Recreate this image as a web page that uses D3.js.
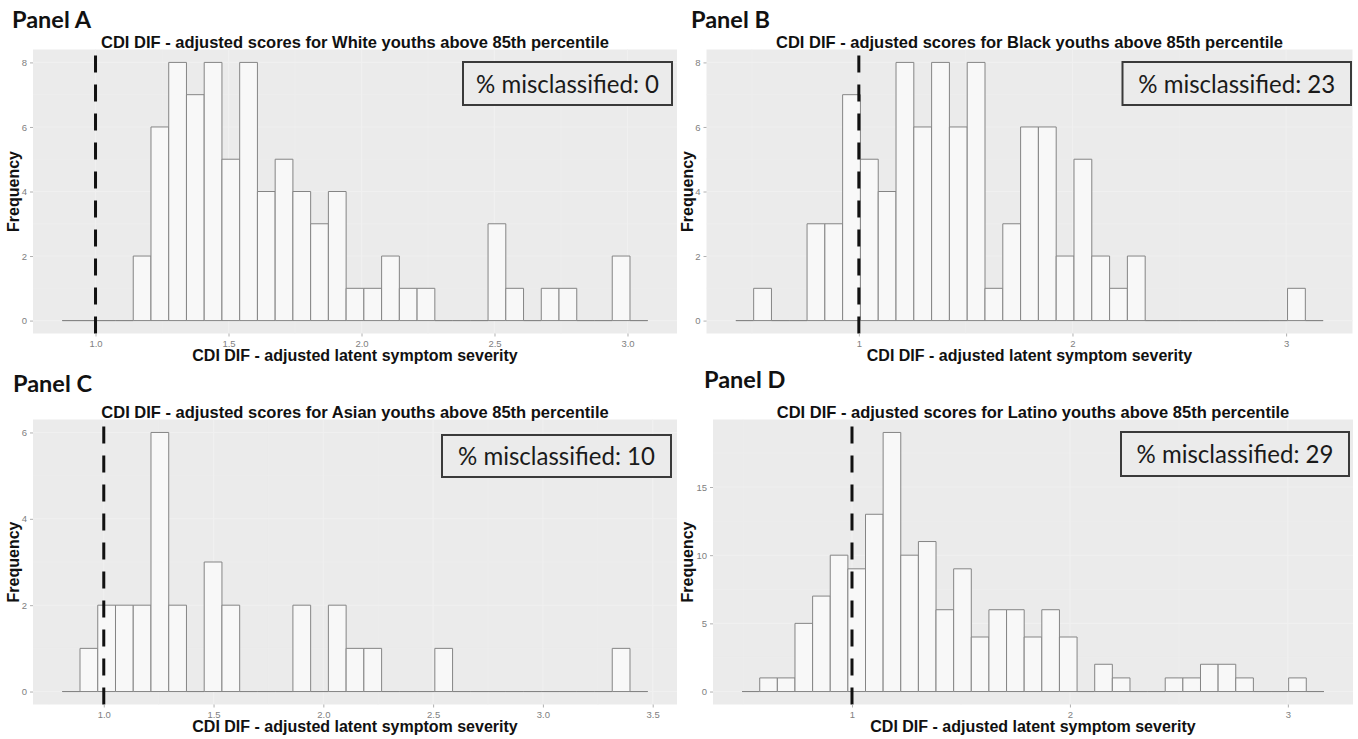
<!DOCTYPE html>
<html>
<head>
<meta charset="utf-8">
<script src="https://cdn.jsdelivr.net/npm/d3@7"></script>
<style>
  body { margin: 0; background: #fff; }
  svg { display: block; }
</style>
</head>
<body>
<svg id="chart" width="1358" height="739"></svg>
<script>
// values
const panelNames = ["Panel A", "Panel B", "Panel C", "Panel D"];
const groups = ["White", "Black", "Asian", "Latino"];
const misclassified = [0, 23, 10, 29];
const cutoff = 1;

// first bin edge and bin width of each histogram
const binStart = [0.875, 0.4244, 0.811, 0.4957];
const binWidth = [0.0667, 0.0833, 0.0808, 0.0809];

const countsA = [0,0,0,0,2,6,8,7,8,5,8,4,5,4,3,4,1,1,2,1,1,0,0,0,3,1,0,1,1,0,0,2,0];
const countsB = [0,1,0,0,3,3,7,5,4,8,6,8,6,8,1,3,6,6,2,5,2,1,2,0,0,0,0,0,0,0,0,1,0];
const countsC = [0,1,2,2,2,6,2,0,3,2,0,0,0,2,0,2,1,1,0,0,0,1,0,0,0,0,0,0,0,0,0,1,0];
const countsD = [0,1,1,5,7,10,9,13,19,10,11,6,9,4,6,6,4,6,4,0,2,1,0,0,1,1,2,2,1,0,0,1,0];

const xTicksA = [1.0, 1.5, 2.0, 2.5, 3.0];
const xTicksB = [1, 2, 3];
const xTicksC = [1.0, 1.5, 2.0, 2.5, 3.0, 3.5];
const xTicksD = [1, 2, 3];
const yTicksA = [0, 2, 4, 6, 8];
const yTicksB = [0, 2, 4, 6, 8];
const yTicksC = [0, 2, 4, 6];
const yTicksD = [0, 5, 10, 15];

const counts = [countsA, countsB, countsC, countsD];
const xTicks = [xTicksA, xTicksB, xTicksC, xTicksD];
const yTicks = [yTicksA, yTicksB, yTicksC, yTicksD];
const xFormats = [".1f", "d", ".1f", "d"];

// layout of the 4 panels (plot area in px)
const frames = [
  { l: 33, r: 677, t: 49.5, b: 333.5 },
  { l: 706.5, r: 1352.5, t: 49.5, b: 333.5 },
  { l: 33, r: 677, t: 419.5, b: 704.5 },
  { l: 713, r: 1353, t: 419.5, b: 704.5 }
];
const labelPos = [[12, 27.5], [691, 28.3], [13, 391.5], [704, 388.3]];
const boxes = [
  { x: 463, y: 62, w: 209, h: 43, tw: 183 },
  { x: 1122.5, y: 62, w: 228.5, h: 43, tw: 197 },
  { x: 442, y: 435, w: 229, h: 42, tw: 197 },
  { x: 1121, y: 432, w: 228, h: 44, tw: 197 }
];

const svg = d3.select("#chart");

function expand(lo, hi) {
  let pad = (hi - lo) * 0.05;
  return [lo - pad, hi + pad];
}

for (let i = 0; i < 4; i++) {
  let f = frames[i];
  let data = counts[i].map((c, j) => ({
    x0: binStart[i] + j * binWidth[i],
    x1: binStart[i] + (j + 1) * binWidth[i],
    n: c
  }));
  let xMax = data[data.length - 1].x1;
  let x = d3.scaleLinear()
    .domain(expand(Math.min(binStart[i], cutoff), Math.max(xMax, cutoff)))
    .range([f.l, f.r]);
  let y = d3.scaleLinear()
    .domain(expand(0, d3.max(counts[i])))
    .range([f.b, f.t]);

  let g = svg.append("g");

  g.append("rect")
    .attr("x", f.l).attr("y", f.t)
    .attr("width", f.r - f.l).attr("height", f.b - f.t)
    .attr("fill", "#ebebeb");

  // faint grid
  let xt = xTicks[i];
  let xStep = xt[1] - xt[0];
  let xMinor = d3.range(xt[0] - xStep / 2, xt[xt.length - 1] + xStep, xStep)
    .filter(v => v > x.domain()[0] && v < x.domain()[1]);
  let yt = yTicks[i];
  let yStep = yt[1] - yt[0];
  let yMinor = d3.range(yt[0] + yStep / 2, y.domain()[1], yStep);

  g.selectAll(".gx").data(xMinor).enter().append("line")
    .attr("x1", d => x(d)).attr("x2", d => x(d))
    .attr("y1", f.t).attr("y2", f.b)
    .attr("stroke", "#eeeeee").attr("stroke-width", 0.6);
  g.selectAll(".gy").data(yMinor).enter().append("line")
    .attr("y1", d => y(d)).attr("y2", d => y(d))
    .attr("x1", f.l).attr("x2", f.r)
    .attr("stroke", "#eeeeee").attr("stroke-width", 0.6);
  g.selectAll(".gX").data(xt).enter().append("line")
    .attr("x1", d => x(d)).attr("x2", d => x(d))
    .attr("y1", f.t).attr("y2", f.b)
    .attr("stroke", "#f0f0f0").attr("stroke-width", 1.1);
  g.selectAll(".gY").data(yt).enter().append("line")
    .attr("y1", d => y(d)).attr("y2", d => y(d))
    .attr("x1", f.l).attr("x2", f.r)
    .attr("stroke", "#f0f0f0").attr("stroke-width", 1.1);

  // histogram bars (paths so empty bins still draw their outline)
  g.selectAll(".bar").data(data).enter().append("path")
    .attr("d", d => {
      let p = d3.path();
      p.moveTo(x(d.x0), y(0));
      p.lineTo(x(d.x0), y(d.n));
      p.lineTo(x(d.x1), y(d.n));
      p.lineTo(x(d.x1), y(0));
      p.closePath();
      return p.toString();
    })
    .attr("fill", "#f8f8f8")
    .attr("stroke", "#858585")
    .attr("stroke-width", 1);

  // cutoff line
  g.append("line")
    .attr("x1", x(cutoff)).attr("x2", x(cutoff))
    .attr("y1", f.b).attr("y2", f.t)
    .attr("stroke", "#111")
    .attr("stroke-width", 3)
    .attr("stroke-dasharray", "17,12");

  // axes
  let xAxis = d3.axisBottom(x).tickValues(xt).tickFormat(d3.format(xFormats[i]))
    .tickSize(3).tickPadding(4);
  let ax = g.append("g").attr("transform", `translate(0,${f.b})`).call(xAxis);
  let yAxis = d3.axisLeft(y).tickValues(yt).tickFormat(d3.format("d"))
    .tickSize(3).tickPadding(3);
  let ay = g.append("g").attr("transform", `translate(${f.l},0)`).call(yAxis);
  [ax, ay].forEach(a => {
    a.select(".domain").remove();
    a.selectAll(".tick line").attr("stroke", "#b0b0b0");
    a.selectAll(".tick text")
      .attr("fill", "#808080")
      .style("font-family", "'Liberation Sans', Arial, sans-serif")
      .style("font-size", "9.5px");
  });

  let cx = (f.l + f.r) / 2;

  g.append("text")
    .attr("x", cx).attr("y", f.t - 2)
    .attr("text-anchor", "middle")
    .style("font-family", "'Liberation Sans', Arial, sans-serif")
    .style("font-weight", "bold")
    .style("font-size", "16.5px")
    .attr("fill", "#111")
    .text(`CDI DIF - adjusted scores for ${groups[i]} youths above 85th percentile`);

  g.append("text")
    .attr("x", cx).attr("y", f.b + 27)
    .attr("text-anchor", "middle")
    .style("font-family", "'Liberation Sans', Arial, sans-serif")
    .style("font-weight", "bold")
    .style("font-size", "16px")
    .attr("fill", "#111")
    .text("CDI DIF - adjusted latent symptom severity");

  let yx = i % 2 === 0 ? 18.5 : 693;
  let yc = (f.t + f.b) / 2;
  g.append("text")
    .attr("transform", `translate(${yx},${yc}) rotate(-90)`)
    .attr("text-anchor", "middle")
    .style("font-family", "'Liberation Sans', Arial, sans-serif")
    .style("font-weight", "bold")
    .style("font-size", "16px")
    .attr("fill", "#111")
    .text("Frequency");

  g.append("text")
    .attr("x", labelPos[i][0]).attr("y", labelPos[i][1])
    .style("font-family", "Lato, 'Open Sans', sans-serif")
    .style("font-weight", "bold")
    .style("font-size", "23.5px")
    .attr("fill", "#111")
    .text(panelNames[i]);

  let bx = boxes[i];
  g.append("rect")
    .attr("x", bx.x).attr("y", bx.y)
    .attr("width", bx.w).attr("height", bx.h)
    .attr("fill", "#ebebeb")
    .attr("stroke", "#3a3a3a")
    .attr("stroke-width", 2);
  g.append("text")
    .attr("x", bx.x + bx.w / 2).attr("y", bx.y + bx.h / 2 + 9)
    .attr("text-anchor", "middle")
    .attr("textLength", bx.tw)
    .attr("lengthAdjust", "spacingAndGlyphs")
    .style("font-family", "Lato, 'Open Sans', sans-serif")
    .style("font-size", "25px")
    .attr("fill", "#1a1a1a")
    .text(`% misclassified: ${misclassified[i]}`);
}
</script>
</body>
</html>
